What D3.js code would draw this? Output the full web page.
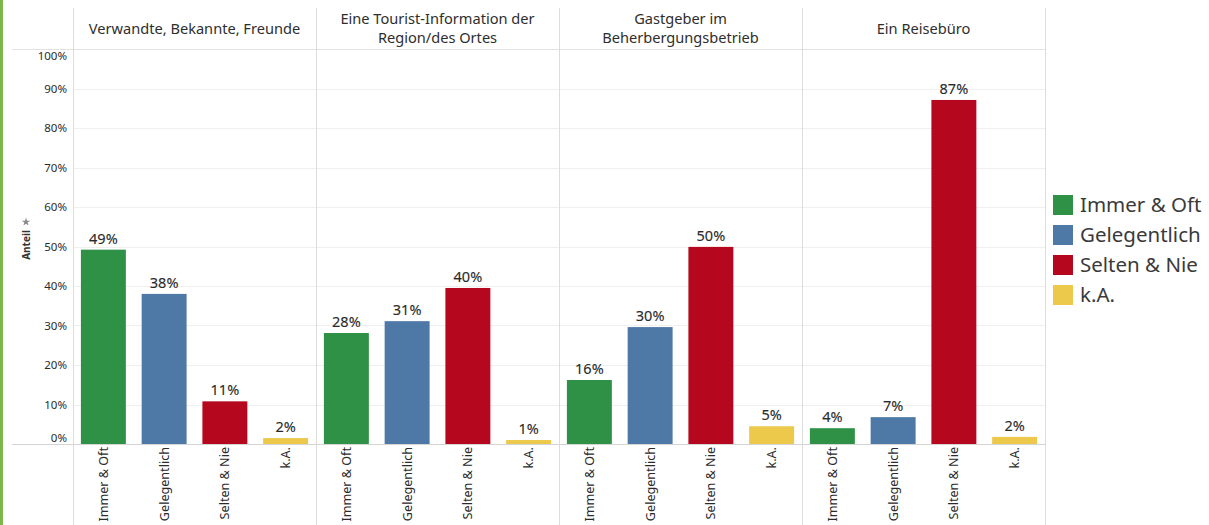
<!DOCTYPE html>
<html><head><meta charset="utf-8">
<script src="https://cdn.jsdelivr.net/npm/d3@7"></script>
<style>
html,body{margin:0;padding:0;background:#fff;}
svg{display:block;font-family:"Noto Sans",sans-serif;}
</style></head>
<body><svg id="c" width="1209" height="525"></svg>
<script>
const panels = ["Verwandte, Bekannte, Freunde","Eine Tourist-Information der|Region/des Ortes","Gastgeber im|Beherbergungsbetrieb","Ein Reisebüro"];
const categories = ["Immer & Oft","Gelegentlich","Selten & Nie","k.A."];
const colors = ["#2e9146","#4e79a7","#b5081f","#ecc94b"];
const valImmerOft   = [49.2, 28.1, 16.2, 4.0];
const valGelegentl  = [38.0, 31.1, 29.6, 6.8];
const valSeltenNie  = [10.8, 39.5, 49.9, 87.1];
const valKA         = [1.5, 1.0, 4.5, 1.8];
const yTicks = [0,10,20,30,40,50,60,70,80,90,100];

const series = [valImmerOft, valGelegentl, valSeltenNie, valKA];
const svg = d3.select("#c");
const W = 1209, H = 525;

// left green border
svg.append("rect").attr("x",0).attr("y",0).attr("width",3).attr("height",H).attr("fill","#7ab648");

const x0 = d3.scaleBand().domain(d3.range(panels.length)).range([73,1045]);
const x1 = d3.scaleBand().domain(categories).range([0,x0.bandwidth()]).paddingInner(0.26).paddingOuter(0.13);
const y = d3.scaleLinear().domain([0,100]).range([444,49]);

// gridlines
svg.append("g").selectAll("line").data(yTicks.filter(t=>t>0)).join("line")
  .attr("x1",73).attr("x2",1045).attr("y1",d=>Math.round(y(d))+0.5).attr("y2",d=>Math.round(y(d))+0.5)
  .attr("stroke","#efefef").attr("stroke-width",1);

// header bottom line
svg.append("line").attr("x1",12).attr("x2",1045).attr("y1",49.5).attr("y2",49.5).attr("stroke","#e3e3e3");
// baseline
svg.append("line").attr("x1",12).attr("x2",1045).attr("y1",444.5).attr("y2",444.5).attr("stroke","#d4d4d4");

// vertical panel separators
const seps = panels.map((p,i)=>x0(i)).concat([1045]);
svg.append("g").selectAll("line").data(seps).join("line")
  .attr("x1",d=>Math.round(d)+0.5).attr("x2",d=>Math.round(d)+0.5).attr("y1",8).attr("y2",H)
  .attr("stroke","#dcdcdc");

// y axis
const yAxis = d3.axisLeft(y).tickValues(yTicks).tickSize(0).tickPadding(0).tickFormat(d=>d+"%");
const ga = svg.append("g").attr("transform","translate(67,0)").call(yAxis);
ga.select(".domain").remove();
ga.selectAll("text").attr("font-family","Noto Sans, sans-serif").attr("font-size",11.5).attr("fill","#2a2a2a")
  .attr("dy",d=> d===100 ? "0.95em" : (d===0 ? "-0.25em" : "0.32em"));

// axis title
svg.append("text").attr("transform","translate(30,245) rotate(-90)").attr("text-anchor","middle")
  .attr("font-size",10).attr("font-weight","bold").attr("fill","#333").text("Anteil");
svg.append("path").attr("d",d3.symbol(d3.symbolStar,22)()).attr("transform","translate(26,222)").attr("fill","#8a8a8a");

// headers
panels.forEach((p,i)=>{
  const lines = p.split("|");
  const cx = x0(i)+x0.bandwidth()/2;
  const t = svg.append("text").attr("text-anchor","middle").attr("font-size",14.6).attr("fill","#2e2e2e");
  const startY = lines.length===1 ? 34 : 24;
  lines.forEach((l,k)=>t.append("tspan").attr("x",cx).attr("y",startY+k*19).text(l));
});

// bars
panels.forEach((p,i)=>{
  const g = svg.append("g").attr("transform",`translate(${x0(i)},0)`);
  const data = categories.map((c,k)=>({c, v: series[k][i], col: colors[k]}));
  g.selectAll("rect").data(data).join("rect")
    .attr("x",d=>x1(d.c)).attr("width",x1.bandwidth())
    .attr("y",d=>y(d.v)).attr("height",d=>y(0)-y(d.v))
    .attr("fill",d=>d.col);
  g.selectAll("text.v").data(data).join("text").attr("class","v")
    .attr("x",d=>x1(d.c)+x1.bandwidth()/2).attr("y",d=>y(d.v)-6)
    .attr("text-anchor","middle").attr("font-size",14.5).attr("fill","#2a2a2a")
    .attr("stroke","#2a2a2a").attr("stroke-width",0.12)
    .text(d=>Math.round(d.v)+"%");
  g.selectAll("text.c").data(data).join("text").attr("class","c")
    .attr("transform",d=>`translate(${x1(d.c)+x1.bandwidth()/2+4.5},447) rotate(-90)`)
    .attr("text-anchor","end").attr("font-size",12.6).attr("fill","#2a2a2a")
    .text(d=>d.c);
});

// legend
const lg = svg.append("g").attr("transform","translate(1053,195)");
categories.forEach((c,k)=>{
  lg.append("rect").attr("x",0).attr("y",k*30).attr("width",20).attr("height",20).attr("fill",colors[k]);
  lg.append("text").attr("x",27).attr("y",k*30+17).attr("font-size",20.5).attr("fill","#3a3a3a").text(c);
});
</script></body></html>
